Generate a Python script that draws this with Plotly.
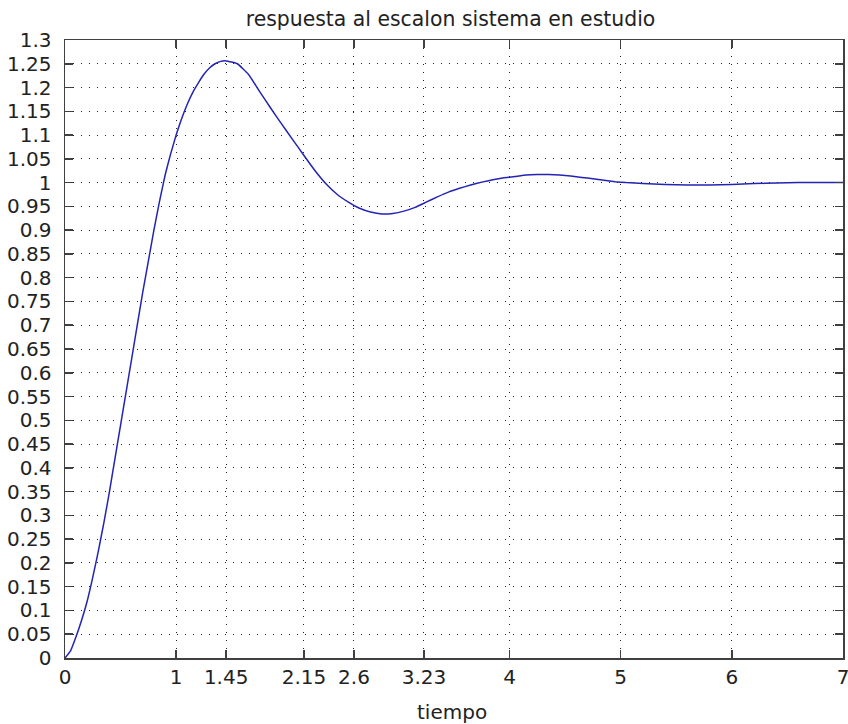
import plotly.graph_objects as go

# Step response values
t = [0.0, 0.05, 0.1, 0.15, 0.2, 0.25, 0.3, 0.35, 0.4, 0.45, 0.5, 0.55, 0.6, 0.65,
     0.7, 0.75, 0.8, 0.85, 0.9, 0.95, 1.0, 1.05, 1.1, 1.15, 1.2, 1.25, 1.3, 1.35,
     1.4, 1.45, 1.55, 1.65, 1.75, 1.85, 1.95, 2.05, 2.15, 2.25, 2.35, 2.45, 2.55,
     2.65, 2.75, 2.85, 2.95, 3.05, 3.15, 3.25, 3.35, 3.45, 3.55, 3.65, 3.75, 3.85,
     3.95, 4.05, 4.15, 4.25, 4.35, 4.45, 4.55, 4.65, 4.75, 4.85, 4.95, 5.05, 5.2,
     5.4, 5.6, 5.8, 6.0, 6.2, 6.4, 6.6, 6.8, 7.0]
y = [0.0, 0.015, 0.045, 0.08, 0.12, 0.17, 0.225, 0.285, 0.35, 0.42, 0.49, 0.56,
     0.63, 0.70, 0.77, 0.835, 0.90, 0.96, 1.015, 1.06, 1.10, 1.135, 1.165, 1.19,
     1.21, 1.228, 1.241, 1.25, 1.255, 1.256, 1.25, 1.228, 1.192, 1.157, 1.123,
     1.09, 1.057, 1.025, 0.997, 0.975, 0.959, 0.946, 0.938, 0.934, 0.935, 0.94,
     0.948, 0.959, 0.97, 0.98, 0.988, 0.995, 1.001, 1.006, 1.010, 1.013, 1.016,
     1.017, 1.017, 1.016, 1.014, 1.011, 1.008, 1.005, 1.002, 1.0, 0.998, 0.996,
     0.995, 0.995, 0.996, 0.998, 0.999, 1.0, 1.0, 1.0]

x_tickvals = [0, 1, 1.45, 2.15, 2.6, 3.23, 4, 5, 6, 7]
x_ticktext = ["0", "1", "1.45", "2.15", "2.6", "3.23", "4", "5", "6", "7"]
y_tickvals = [i * 0.05 for i in range(27)]
y_ticktext = ["0", "0.05", "0.1", "0.15", "0.2", "0.25", "0.3", "0.35", "0.4",
              "0.45", "0.5", "0.55", "0.6", "0.65", "0.7", "0.75", "0.8", "0.85",
              "0.9", "0.95", "1", "1.05", "1.1", "1.15", "1.2", "1.25", "1.3"]

title_text = "respuesta al escalon sistema en estudio"
xlabel_text = "tiempo"

FONT = "DejaVu Sans, Verdana, sans-serif"
TXT = "#222222"
W, H = 848, 724
ML, MR, MT, MB = 65, 5, 40, 66
PW = W - ML - MR
PH = H - MT - MB

fig = go.Figure()
fig.add_trace(go.Scatter(x=t, y=y, mode="lines",
                         line=dict(color="#2424b4", width=1.5, shape="spline", smoothing=0.4),
                         showlegend=False, hoverinfo="skip"))

axis_common = dict(
    showline=True, linecolor="#404040", linewidth=1.5, mirror="ticks",
    ticks="inside", ticklen=8, tickcolor="#404040", tickwidth=1.5,
    showgrid=True, gridcolor="#202020", gridwidth=1, griddash="1px,7px",
    zeroline=False, automargin=False, ticklabeloverflow="allow",
    tickfont=dict(family=FONT, size=20, color=TXT),
)

fig.update_xaxes(range=[0, 7], tickmode="array", tickvals=x_tickvals,
                 ticktext=x_ticktext, **axis_common)
fig.update_yaxes(range=[0, 1.3], tickmode="array", tickvals=y_tickvals,
                 ticktext=y_ticktext, ticklabelstandoff=8, **axis_common)

fig.update_layout(
    width=W, height=H,
    margin=dict(l=ML, r=MR, t=MT, b=MB, autoexpand=False),
    paper_bgcolor="white", plot_bgcolor="white",
    font=dict(family=FONT, size=20, color=TXT),
    title=dict(text=title_text, x=(450.5 - ML) / PW, xref="paper",
               y=(H - 19) / H, yref="container", xanchor="center",
               yanchor="middle", automargin=False,
               font=dict(family=FONT, size=20.4, color=TXT)),
    annotations=[dict(text=xlabel_text, x=(452 - ML) / PW, xref="paper",
                      y=-(712 - (MT + PH)) / PH, yref="paper", xanchor="center",
                      yanchor="middle", showarrow=False,
                      font=dict(family=FONT, size=20, color=TXT))],
)

fig.write_html(
    "out.html",
    config={"displayModeBar": False, "staticPlot": True},
    post_script="document.body.style.margin='0';document.body.style.overflow='hidden';"
                "document.documentElement.style.overflow='hidden';",
)
